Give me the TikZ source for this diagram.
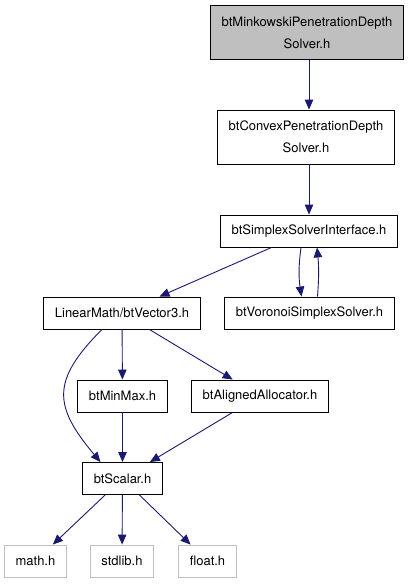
\documentclass[tikz,border=0pt]{standalone}
\usepackage{fontspec}
\setmainfont{TeX Gyre Heros}
\usepackage{tikz}
\usetikzlibrary{arrows.meta}

\definecolor{edgeblue}{HTML}{191970}
\definecolor{boxgray}{HTML}{BFBFBF}

\begin{document}
\begin{tikzpicture}[
		x=1pt, y=-1pt,
		>={Triangle[length=10pt,width=8.5pt]},
		filebox/.style={draw, line width=0.9pt, inner xsep=11pt, inner ysep=0pt,
		minimum height=32pt, font=\fontsize{13}{22}\selectfont, align=center},
		twoline/.style={filebox, minimum height=54pt},
		sysbox/.style={filebox, draw=boxgray},
		dep/.style={->, draw=edgeblue, line width=0.9pt}
		]
		\useasboundingbox (0,0) rectangle (412,584);

		\node[twoline, fill=boxgray, minimum width=191pt](Mink) at (307,32.5){btMinkowskiPenetrationDepth\\Solver.h};
		\node[twoline, minimum width=169pt](Convex) at (306,137){btConvexPenetrationDepth\\Solver.h};
		\node[filebox](Simplex) at (309,231){btSimplexSolverInterface.h};
		\node[filebox](Vec3) at (122,313){LinearMath/btVector3.h};
		\node[filebox](Voronoi) at (309.5,313){btVoronoiSimplexSolver.h};
		\node[filebox](MinMax) at (122.5,396){btMinMax.h};
		\node[filebox](Aligned) at (260,396){btAlignedAllocator.h};
		\node[filebox](Scalar) at (122.5,478.5){btScalar.h};
		\node[sysbox](Math) at (35.5,561){math.h};
		\node[sysbox](Stdlib) at (122,561){stdlib.h};
		\node[sysbox](Float) at (207.5,561){float.h};

		\draw[dep] (Mink.south -| Simplex) -- (Convex.north -| Simplex);
		\draw[dep] (Convex.south -| Simplex) -- (Simplex);
		\draw[dep] (Simplex) -- (Vec3);
		\draw[dep] ([xshift=-8pt]Simplex.south) to[bend right=8] ([xshift=-8pt]Voronoi.north);
		\draw[dep] ([xshift=8pt]Voronoi.north) to[bend right=5] ([xshift=8pt]Simplex.south);
		\draw[dep] (Vec3) -- (MinMax);
		\draw[dep] (Vec3) -- (Aligned);
		\draw[dep] ([xshift=-20pt]Vec3.south) to[out=225, in=130, looseness=1.4] ([xshift=-22pt]Scalar.north);
		\draw[dep] (MinMax) -- (Scalar);
		\draw[dep] (Aligned) -- (Scalar);
		\draw[dep] (Scalar) -- (Math);
		\draw[dep] (Scalar) -- (Stdlib);
		\draw[dep] (Scalar) -- (Float);
	\end{tikzpicture}
\end{document}
